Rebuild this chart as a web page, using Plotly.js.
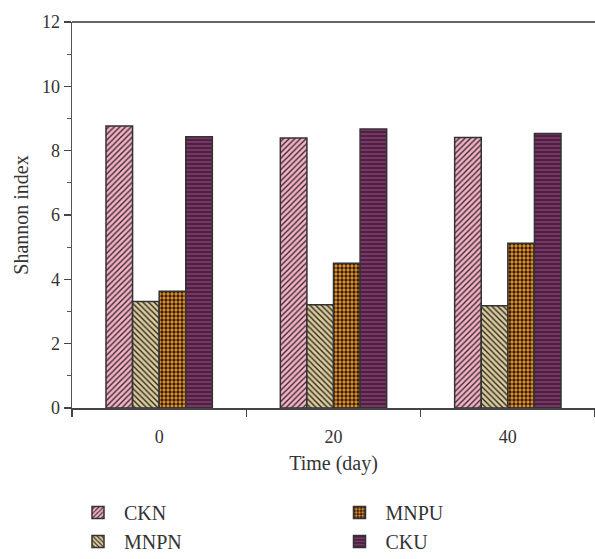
<!DOCTYPE html>
<html>
<head>
<meta charset="utf-8">
<script src="https://cdn.plot.ly/plotly-3.0.1.min.js"></script>
<style>html,body{margin:0;padding:0;background:#fff}</style>
</head>
<body>
<div id="chart" style="width:595px;height:559px"></div>
<script>
const days = [0, 20, 40];
const seriesNames = ['CKN', 'MNPN', 'MNPU', 'CKU'];
const CKN = [8.77, 8.39, 8.41];
const MNPN = [3.31, 3.21, 3.18];
const MNPU = [3.63, 4.50, 5.12];
const CKU = [8.43, 8.67, 8.53];
const yTicks = [0, 2, 4, 6, 8, 10, 12];
const xTickLabels = ['0', '20', '40'];

const values = [CKN, MNPN, MNPU, CKU];
const styles = [
  {bg: '#f5b3c7', fg: '#3b2a31', shape: '/', size: 4, sol: 0.35, rank: 1},
  {bg: '#dccb9d', fg: '#2f2a22', shape: '\\', size: 4, sol: 0.35, rank: 3},
  {bg: '#f6931c', fg: '#2b2118', shape: '.', size: 4, sol: 0.55, rank: 2},
  {bg: '#7a3567', fg: '#36192f', shape: '-', size: 4, sol: 0.35, rank: 4}
];

const font = 'Liberation Serif, Times New Roman, serif';
const traces = seriesNames.map((n, i) => ({
  type: 'bar',
  name: n,
  x: days,
  y: values[i],
  legendrank: styles[i].rank,
  marker: {
    color: styles[i].bg,
    line: {color: '#333333', width: 1.5},
    pattern: {shape: styles[i].shape, bgcolor: styles[i].bg, fgcolor: styles[i].fg,
              size: styles[i].size, solidity: styles[i].sol, fillmode: 'replace'}
  }
}));

const layout = {
  width: 595, height: 559,
  margin: {l: 72, r: 0, t: 22, b: 151, autoexpand: false},
  paper_bgcolor: '#fff', plot_bgcolor: '#fff',
  barmode: 'group', bargap: 0.39, bargroupgap: 0,
  font: {family: font, size: 18, color: '#333'},
  showlegend: true,
  legend: {orientation: 'h', x: 0.0, xanchor: 'left', y: -0.22, yanchor: 'top',
           entrywidth: 0.5, entrywidthmode: 'fraction', traceorder: 'normal', itemwidth: 42,
           font: {family: font, size: 20, color: '#333'}},
  xaxis: {
    range: [-10, 50], tickvals: days, ticktext: xTickLabels, ticks: '',
    ticklabelstandoff: 12,
    showline: true, linecolor: '#444', linewidth: 1.5, zeroline: false, showgrid: false,
    tickfont: {family: font, size: 18, color: '#333'},
    minor: {tickmode: 'array', tickvals: [-10, 10, 30, 50], ticks: 'outside', ticklen: 7, tickwidth: 1.5, tickcolor: '#444', showgrid: false},
    title: {text: 'Time (day)', font: {family: font, size: 20, color: '#333'}, standoff: 10}
  },
  yaxis: {
    range: [0, 12], tickvals: yTicks, ticks: 'outside', ticklen: 7, tickwidth: 1.5, tickcolor: '#444',
    showline: true, linecolor: '#555', linewidth: 1.5, zeroline: false, showgrid: false,
    tickfont: {family: font, size: 18, color: '#333'},
    minor: {dtick: 1, ticks: 'outside', ticklen: 4, tickwidth: 1.2, tickcolor: '#555', showgrid: false},
    title: {text: 'Shannon index', font: {family: font, size: 20, color: '#333'}, standoff: 8}
  },
  shapes: [{type: 'line', xref: 'paper', yref: 'paper', x0: 0, x1: 1, y0: 1, y1: 1,
            line: {color: '#333', width: 1.5}}]
};

Plotly.newPlot('chart', traces, layout, {displayModeBar: false, staticPlot: true});
</script>
</body>
</html>
